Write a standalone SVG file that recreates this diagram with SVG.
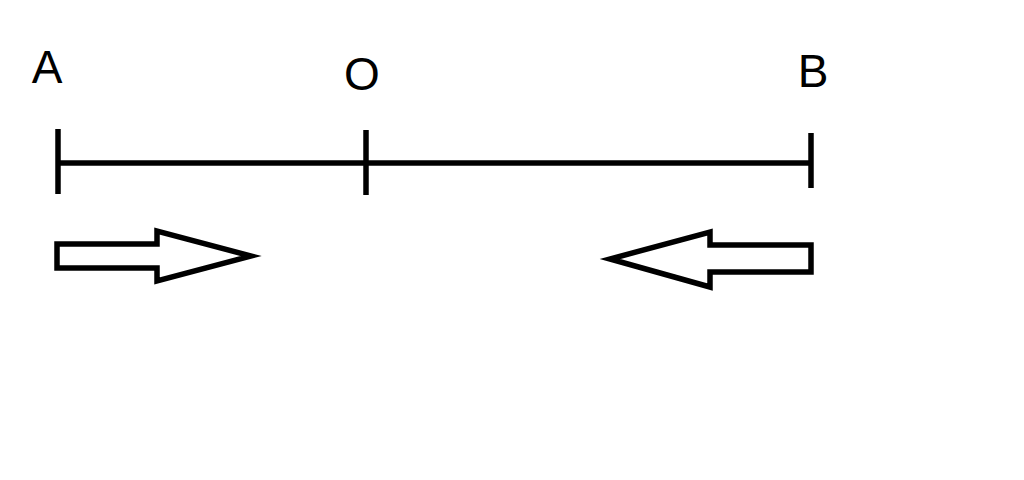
<svg xmlns="http://www.w3.org/2000/svg" width="1024" height="480" viewBox="0 0 1024 480">
<style>
.lbl{font-family:"Liberation Sans",Arial,sans-serif;font-size:46px;fill:#000;text-anchor:middle}
.ln{stroke:#000;stroke-width:5.5;fill:none;stroke-linecap:butt}
.arr{stroke:#000;stroke-width:5.5;fill:#fff;stroke-linejoin:miter}
</style>
<rect width="1024" height="480" fill="#fff"/>
<g id="connectors">
<line class="ln" x1="58" y1="163" x2="811" y2="163"/>
</g>
<g id="nodeA">
<text class="lbl" x="47" y="83">A</text>
<line class="ln" x1="58" y1="129" x2="58" y2="194"/>
</g>
<g id="nodeO">
<text class="lbl" x="362" y="90">O</text>
<line class="ln" x1="366" y1="130" x2="366" y2="195"/>
</g>
<g id="nodeB">
<text class="lbl" x="813" y="87">B</text>
<line class="ln" x1="811" y1="133" x2="811" y2="188"/>
</g>
<g id="arrowRight">
<polygon class="arr" points="57,244 157,244 157,231 251,256 157,281 157,268 57,268"/>
</g>
<g id="arrowLeft">
<polygon class="arr" points="811,245 710,245 710,232 610,259 710,287 710,272 811,272"/>
</g>
</svg>
